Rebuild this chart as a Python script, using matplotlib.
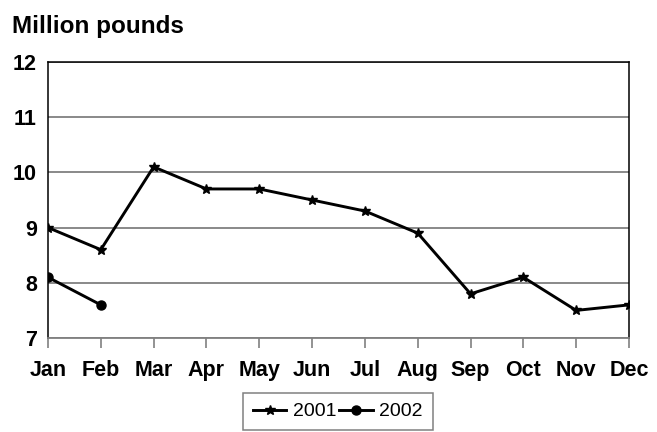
import matplotlib
matplotlib.use("Agg")
import matplotlib.pyplot as plt

# Données
months = ["Jan", "Feb", "Mar", "Apr", "May", "Jun",
          "Jul", "Aug", "Sep", "Oct", "Nov", "Dec"]
sales_2001 = [9.0, 8.6, 10.1, 9.7, 9.7, 9.5, 9.3, 8.9, 7.8, 8.1, 7.5, 7.6]
sales_2002 = [8.1, 7.6]
y_ticks = [7, 8, 9, 10, 11, 12]

plt.rcParams["font.family"] = ["Liberation Sans", "DejaVu Sans"]

fig = plt.figure(figsize=(6.57, 4.32), dpi=100)
ax = fig.add_axes([48 / 657, 1 - 338 / 432, (629 - 48) / 657, (338 - 62) / 432])

x = list(range(len(months)))
ax.plot(x, sales_2001, color="black", lw=2.1, marker="*", ms=7, label="2001")
ax.plot(x[:len(sales_2002)], sales_2002, color="black", lw=2.1, marker="o", ms=6.5,
        label="2002")

ax.set_xlim(0, len(months) - 1)
ax.set_ylim(7, 12)
ax.set_yticks(y_ticks)
ax.set_xticks(x)
ax.set_xticklabels(months, fontweight="bold", fontsize=15.5)
ax.set_yticklabels([str(v) for v in y_ticks], fontweight="bold", fontsize=15.5)

# Grille horizontale grise
ax.grid(axis="y", color="#808080", lw=1.3)
ax.set_axisbelow(True)
ax.tick_params(axis="y", length=0, pad=8)
ax.tick_params(axis="x", length=7, color="#808080", width=1.2, pad=9)

for side in ["left", "top", "right"]:
    ax.spines[side].set_color("black")
    ax.spines[side].set_linewidth(1.1)
ax.spines["bottom"].set_color("#808080")
ax.spines["bottom"].set_linewidth(1.3)

fig.text(12 / 657, 1 - 33 / 432, "Million pounds", fontsize=17.5, fontweight="bold",
         ha="left", va="baseline")

leg = ax.legend(loc="upper center", bbox_to_anchor=(338 / 657, 1 - 393 / 432),
                bbox_transform=fig.transFigure, ncol=2, fontsize=14,
                frameon=True, fancybox=False, framealpha=1, edgecolor="#808080",
                handlelength=1.7, handletextpad=0.35, columnspacing=0.15,
                borderpad=0.5, borderaxespad=0)
leg.get_frame().set_linewidth(1.1)

fig.savefig("out.png", dpi=100)
